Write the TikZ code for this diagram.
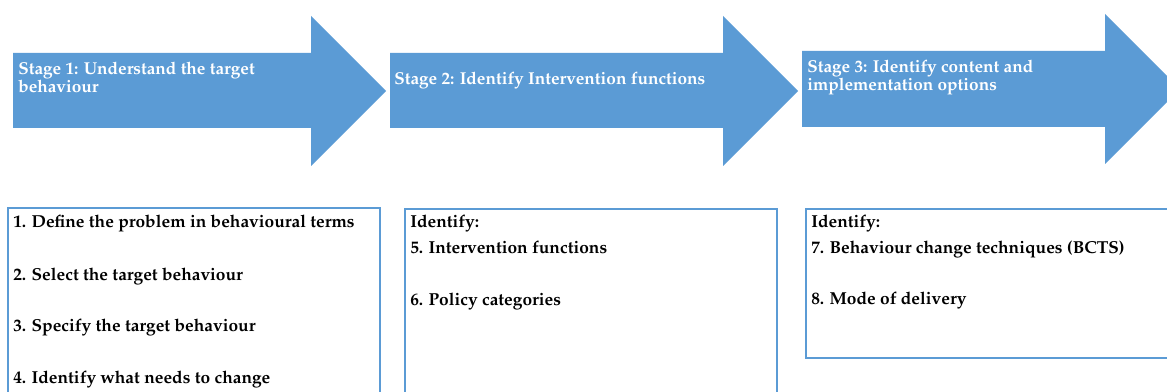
\documentclass[tikz,border=0pt]{standalone}
\usepackage[T1]{fontenc}
\usepackage{mathpazo}
\usetikzlibrary{positioning}
\definecolor{stageblue}{HTML}{5B9BD5}
\tikzset{
    stagetext/.style={anchor=base west,inner sep=0pt,text=white,font=\fontsize{12.9}{15}\selectfont\bfseries},
    steptext/.style={anchor=base west,inner sep=0pt,font=\fontsize{13}{15}\selectfont\bfseries},
    stepbox/.style={draw=stageblue,line width=1.1pt}
}

\begin{document}
\begin{tikzpicture}[x=0.75pt,y=-0.75pt]
    \useasboundingbox (0,0) rectangle (1167,392);
    \clip (0,0) rectangle (1167,392);

    \fill[stageblue] (13,53) -- (311,53) -- (311,16) -- (386,91) -- (311,166) -- (311,128) -- (13,128) -- cycle;
    \fill[stageblue] (390,53) -- (723,53) -- (723,16) -- (798,91) -- (723,166) -- (723,128) -- (390,128) -- cycle;
    \fill[stageblue] (802,51) -- (1105,51) -- (1105,14) -- (1180,89) -- (1105,164) -- (1105,127) -- (802,127) -- cycle;

    \node[stagetext] (s1a) at (18,75) {Stage 1: Understand the target};
    \node[stagetext] (s1b) at (18,93) {behaviour};
    \node[stagetext] (s2a) at (394,85) {Stage 2: Identify Intervention functions};
    \node[stagetext] (s3a) at (807,73) {Stage 3: Identify content and};
    \node[stagetext] (s3b) at (807,91) {implementation options};

    \draw[stepbox] (8,208) rectangle (380,400);
    \draw[stepbox] (405,209) rectangle (777,400);
    \draw[stepbox] (806,209) rectangle (1180,358);

    \node[steptext] (b1) at (13,228) {1. Define the problem in behavioural terms};
    \node[steptext] (b2) at (13,280) {2. Select the target behaviour};
    \node[steptext] (b3) at (13,331) {3. Specify the target behaviour};
    \node[steptext] (b4) at (13,383) {4. Identify what needs to change};

    \node[steptext] (i2) at (410,228) {Identify:};
    \node[steptext] (b5) at (410,253) {5. Intervention functions};
    \node[steptext] (b6) at (410,305) {6. Policy categories};

    \node[steptext] (i3) at (811,228) {Identify:};
    \node[steptext] (b7) at (811,253) {7. Behaviour change techniques (BCTS)};
    \node[steptext] (b8) at (811,304) {8. Mode of delivery};
\end{tikzpicture}
\end{document}
